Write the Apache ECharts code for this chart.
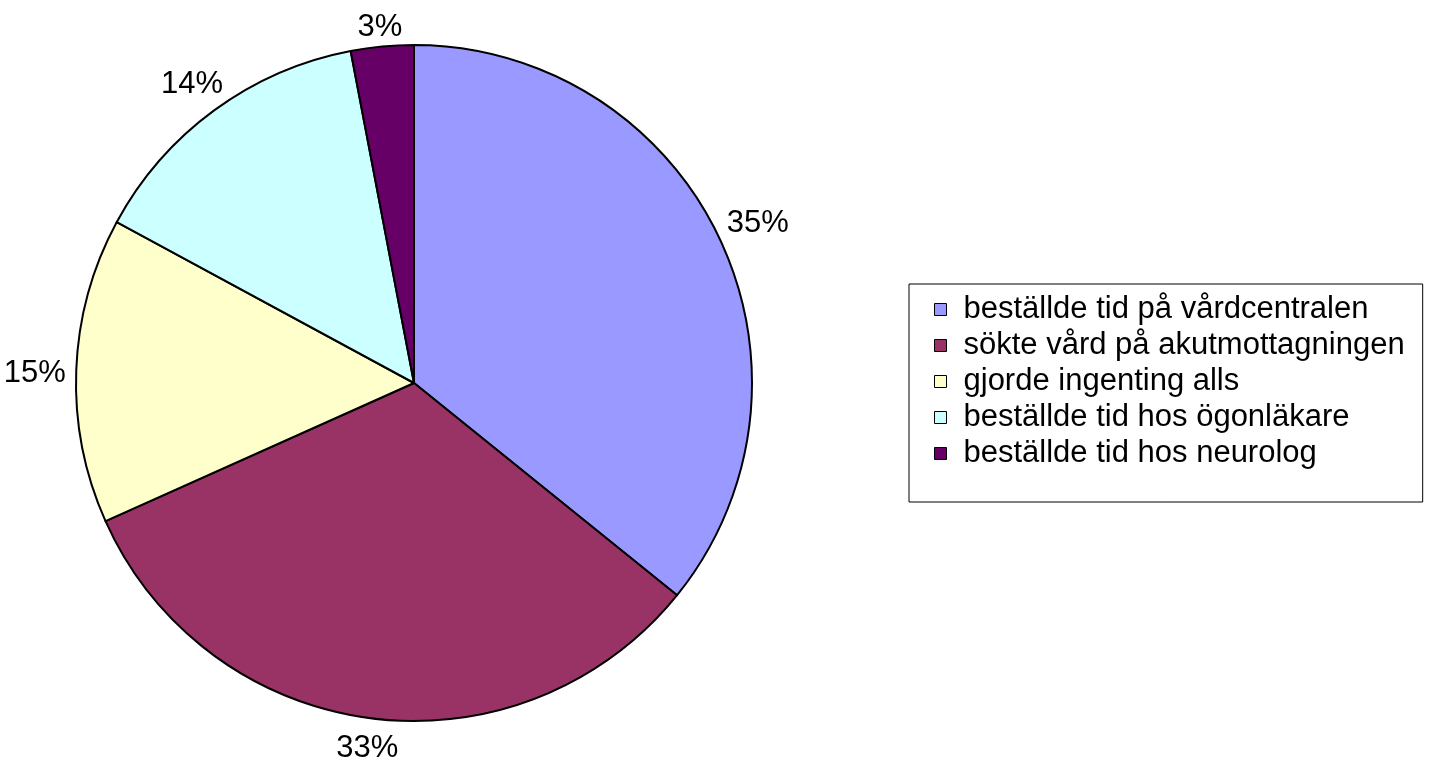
<!DOCTYPE html>
<html>
<head>
<meta charset="utf-8">
<script src="https://cdn.jsdelivr.net/npm/echarts@6/dist/echarts.min.js"></script>
<style>
html,body{margin:0;padding:0;background:#fff;}
#chart{width:1433px;height:772px;}
</style>
</head>
<body>
<div id="chart"></div>
<script>
const categories = [
  'beställde tid på vårdcentralen',
  'sökte vård på akutmottagningen',
  'gjorde ingenting alls',
  'beställde tid hos ögonläkare',
  'beställde tid hos neurolog'
];
const values = [35.8, 32.5, 14.6, 14.1, 3.0];
const percentLabels = ['35%', '33%', '15%', '14%', '3%'];
const colors = ['#9999FF', '#993366', '#FFFFCC', '#CCFFFF', '#660066'];

const PIE_CX = 414, PIE_CY = 383, PIE_R = 338;
const LABEL_GAP = 10;

const chart = echarts.init(document.getElementById('chart'), null, {renderer: 'canvas'});
const font = '"Liberation Sans", Arial, sans-serif';

// Place each label box just outside the slice, along the slice's mid angle (Excel-like)
function placeLabel(params) {
  const i = params.dataIndex;
  const total = values.reduce(function (a, b) { return a + b; }, 0);
  let acc = 0;
  for (let j = 0; j < i; j++) acc += values[j];
  const mid = (acc + values[i] / 2) / total * Math.PI * 2;
  const sx = Math.sin(mid), sy = -Math.cos(mid);
  const hw = params.labelRect.width / 2;
  const hh = 12;
  const d = PIE_R + LABEL_GAP + Math.abs(sx) * hw + Math.abs(sy) * hh;
  return {
    x: PIE_CX + d * sx,
    y: PIE_CY + d * sy + 5,
    align: 'center',
    verticalAlign: 'middle'
  };
}

chart.setOption({
  backgroundColor: '#ffffff',
  animation: false,
  legend: {
    orient: 'vertical',
    left: 909,
    top: 284,
    padding: [10, 18, 33, 25],
    borderColor: '#000000',
    borderWidth: 1,
    itemWidth: 12,
    itemHeight: 12,
    itemGap: 5,
    icon: 'rect',
    itemStyle: {borderColor: '#000000', borderWidth: 1},
    textStyle: {fontFamily: font, fontSize: 31, color: '#000000', padding: [0, 0, 0, 12]},
    data: categories
  },
  series: [{
    type: 'pie',
    center: [PIE_CX, PIE_CY],
    radius: PIE_R,
    startAngle: 90,
    clockwise: true,
    avoidLabelOverlap: false,
    itemStyle: {borderColor: '#000000', borderWidth: 2},
    label: {
      show: true,
      position: 'outside',
      fontFamily: font,
      fontSize: 31,
      color: '#000000',
      formatter: function (p) { return percentLabels[p.dataIndex]; }
    },
    labelLine: {show: false, length: 30, length2: 0},
    labelLayout: placeLabel,
    emphasis: {disabled: true},
    data: categories.map(function (c, i) {
      return {name: c, value: values[i], itemStyle: {color: colors[i]}};
    })
  }]
});
</script>
</body>
</html>
